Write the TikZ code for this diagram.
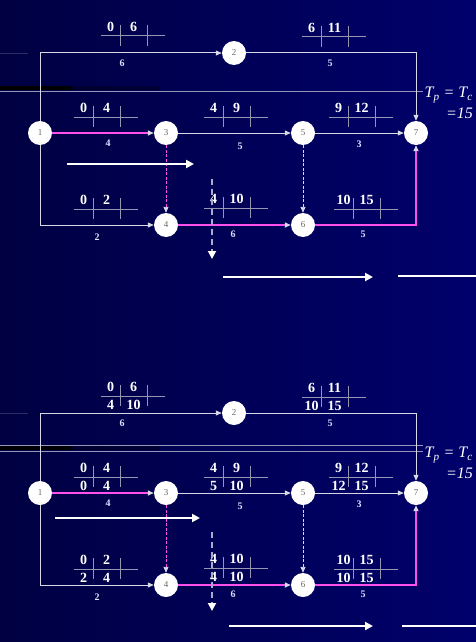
\documentclass[tikz,border=0pt]{standalone}
\usepackage{fontspec}
\setmainfont{Liberation Serif}
\usetikzlibrary{arrows.meta}
\definecolor{edgec}{RGB}{215,215,230}
\definecolor{crit}{RGB}{255,80,235}
\definecolor{tickc}{RGB}{150,150,178}
\definecolor{lblc}{RGB}{215,230,255}
\definecolor{evc}{RGB}{115,100,90}
\definecolor{bgl}{RGB}{0,0,66}
\definecolor{bgr}{RGB}{0,0,108}
\definecolor{hline}{RGB}{150,150,185}
\definecolor{faint}{RGB}{45,45,100}
\definecolor{dashc}{RGB}{170,170,205}
\newcommand\tbtop[5]{%
  \draw[tickl] (#2,#3) -- (#2+64,#3);
  \draw[tickl] (#2+19,#3-11) -- (#2+19,#3+10);
  \draw[tickl] (#2+46,#3-11) -- (#2+46,#3+10);
  \node[num] (#1es) at (#2+9.5,#3-9) {#4};
  \node[num] (#1ef) at (#2+32.5,#3-9) {#5};
}
\newcommand\tbbot[5]{%
  \node[num] (#1ls) at (#2+9.5,#3+8.5) {#4};
  \node[num] (#1lf) at (#2+32.5,#3+8.5) {#5};
}
\newcommand\network[1]{%
  \fill[black] (0,86) rectangle (71,90);
  \fill[black,opacity=0.35] (71,86) rectangle (160,90);
  \draw[faint,line width=0.8pt] (0,53) -- (28,53);
  \draw[hline,line width=0.8pt] (0,91) -- (423,91);
  \node[ev] (#1n1) at (40,133) {1};
  \node[ev] (#1n2) at (234,53) {2};
  \node[ev] (#1n3) at (166,133) {3};
  \node[ev] (#1n4) at (166,225) {4};
  \node[ev] (#1n5) at (303,133) {5};
  \node[ev] (#1n6) at (303,225) {6};
  \node[ev] (#1n7) at (416,133) {7};
  \draw[act] (#1n1) |- (#1n2);
  \draw[act] (#1n2) -| (#1n7);
  \draw[cact] (#1n1) -- (#1n3);
  \draw[act] (#1n3) -- (#1n5);
  \draw[act] (#1n5) -- (#1n7);
  \draw[act] (#1n1) |- (#1n4);
  \draw[dmy,draw=crit] (#1n3) -- (#1n4);
  \draw[cact] (#1n4) -- (#1n6);
  \draw[dmy] (#1n5) -- (#1n6);
  \draw[cact,line width=1.5pt] (#1n6) -| (#1n7);
  \node[dur] (#1d12) at (122,63) {6};
  \node[dur] (#1d27) at (330,63) {5};
  \node[dur] (#1d13) at (108,143) {4};
  \node[dur] (#1d35) at (240,146) {5};
  \node[dur] (#1d57) at (359,144) {3};
  \node[dur] (#1d14) at (97,237) {2};
  \node[dur] (#1d46) at (233,234) {6};
  \node[dur] (#1d67) at (363,234) {5};
  \tbtop{#1b12}{101}{36}{0}{6}
  \tbtop{#1b13}{74}{117}{0}{4}
  \tbtop{#1b14}{74}{209}{0}{2}
  \tbtop{#1b35}{204}{117}{4}{9}
  \tbtop{#1b46}{204}{208}{4}{10}
  \tbtop{#1b27}{302}{37}{6}{11}
  \tbtop{#1b57}{329}{117}{9}{12}
  \tbtop{#1b67}{334}{209}{10}{15}
  \node[tpt,anchor=east] (#1tp) at (473,95) {\itshape T\textsubscript{p} = T\textsubscript{c}};
  \node[tpt,anchor=east] (#1tv) at (473,113) {\itshape =15};
}
\begin{document}
\begin{tikzpicture}[x=1pt,y=-1pt,
  ev/.style={circle,fill=white,minimum size=24pt,inner sep=0pt,font=\fontsize{9}{9}\selectfont,text=evc},
  act/.style={draw=edgec,line width=1pt,-{Triangle[length=6pt,width=5pt,color=edgec]}},
  cact/.style={draw=crit,line width=1.9pt,-{Triangle[length=6pt,width=5pt,color=edgec]}},
  dmy/.style={draw=edgec,line width=0.9pt,dash pattern=on 3pt off 1.5pt,-{Triangle[length=6pt,width=5pt,color=edgec]}},
  tickl/.style={draw=tickc,line width=1pt},
  num/.style={text=white,font=\fontsize{14}{14}\selectfont\bfseries,inner sep=0pt},
  dur/.style={text=lblc,font=\fontsize{10}{10}\selectfont\bfseries,inner sep=0pt},
  tpt/.style={text=white,font=\fontsize{16}{16}\selectfont,inner sep=0pt},
  bigarr/.style={draw=white,line width=2pt,-{Triangle[length=8pt,width=8pt]}},
  plainl/.style={draw=white,line width=2pt},
  dashdown/.style={draw=dashc,line width=1.8pt,dash pattern=on 6pt off 4pt,-{Triangle[length=8pt,width=8pt,color=white]}}]
\useasboundingbox (0,0) rectangle (476,642);
\shade[left color=bgl,right color=bgr] (0,0) rectangle (476,642);
\begin{scope}
  \network{t}
  \coordinate (ta1) at (67,164); \coordinate (ta2) at (194,164);
  \draw[bigarr] (ta1) -- (ta2);
  \coordinate (td1) at (212,179); \coordinate (td2) at (212,259);
  \draw[dashdown] (td1) -- (td2);
  \coordinate (tr1) at (223,277); \coordinate (tr2) at (373,277);
  \draw[bigarr] (tr1) -- (tr2);
  \coordinate (tl1) at (398,276); \coordinate (tl2) at (476,276);
  \draw[plainl] (tl1) -- (tl2);
\end{scope}
\begin{scope}[shift={(0,360)}]
  \draw[hline,line width=0.8pt] (0,85) -- (423,85);
  \network{b}
  \tbbot{bb12}{101}{36}{4}{10}
  \tbbot{bb13}{74}{117}{0}{4}
  \tbbot{bb14}{74}{209}{2}{4}
  \tbbot{bb35}{204}{117}{5}{10}
  \tbbot{bb46}{204}{208}{4}{10}
  \tbbot{bb27}{302}{37}{10}{15}
  \tbbot{bb57}{329}{117}{12}{15}
  \tbbot{bb67}{334}{209}{10}{15}
  \coordinate (ba1) at (55,158); \coordinate (ba2) at (200,158);
  \draw[bigarr] (ba1) -- (ba2);
  \coordinate (bd1) at (212,172); \coordinate (bd2) at (212,251);
  \draw[dashdown] (bd1) -- (bd2);
  \coordinate (br1) at (229,266); \coordinate (br2) at (373,266);
  \draw[bigarr] (br1) -- (br2);
  \coordinate (bl1) at (402,266); \coordinate (bl2) at (476,266);
  \draw[plainl] (bl1) -- (bl2);
\end{scope}
\end{tikzpicture}
\end{document}
